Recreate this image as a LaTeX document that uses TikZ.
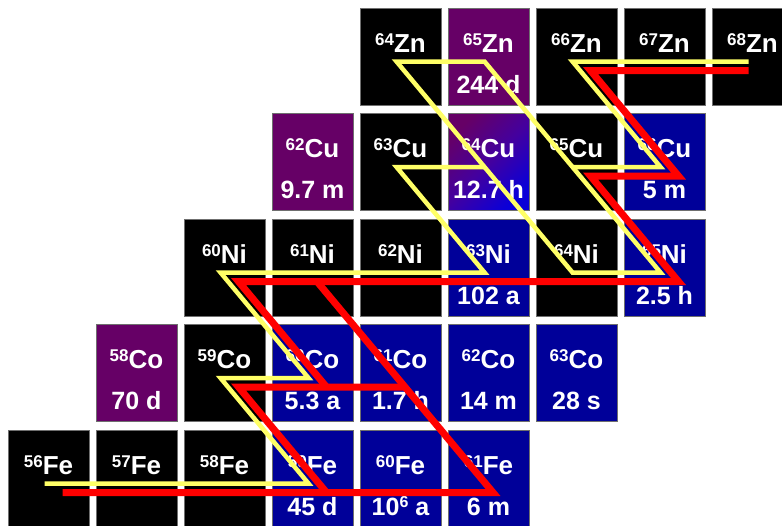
\documentclass[tikz,border=0pt]{standalone}
\usepackage{fontspec}
\setmainfont{Liberation Sans}
\usetikzlibrary{calc}
\definecolor{bplus}{HTML}{660066}
\definecolor{bminus}{HTML}{000099}
\definecolor{bmix}{HTML}{0A00D8}
\definecolor{bmid}{HTML}{44009E}
\definecolor{ypath}{HTML}{FFFF66}
\definecolor{rpath}{HTML}{FF0000}
\definecolor{edgegray}{HTML}{6F6F6F}
\newcommand{\iso}[2]{\raisebox{7pt}{\fontsize{17}{17}\selectfont #1}#2}
\newcommand{\nucbox}[6]{% name, col, row, style, mass, symbol
  \node[nuc,#4] (#1) at ({48.5+88*#2},{56.5+105.5*#3}) {};
  \node[lab] (#1-l) at ($(#1.north)+(0,44)$) {\iso{#5}{#6}};}
\newcommand{\halflife}[2]{\node[hl] (#1-h) at ($(#1.north)+(0,85)$) {#2};}
\begin{document}
\begin{tikzpicture}[x=1pt,y=-1pt,
  nuc/.style={draw=edgegray, line width=0.8pt, minimum width=81pt, minimum height=97pt, inner sep=0pt, outer sep=0pt},
  stable/.style={fill=black},
  ecbox/.style={fill=bplus},
  bmbox/.style={fill=bminus},
  mixbox/.style={top color=bplus, bottom color=bmix, middle color=bmid, shading angle=45},
  lab/.style={text=white, font=\fontsize{26}{26}\selectfont\bfseries, anchor=base, inner sep=0pt},
  hl/.style={text=white, font=\fontsize{25}{25}\selectfont\bfseries, anchor=base, inner sep=0pt},
  yline/.style={draw=ypath, line width=4.5pt, line join=miter},
  rline/.style={draw=rpath, line width=7pt, line join=miter}]
\useasboundingbox (0,0) rectangle (782,525);
\clip (0,0) rectangle (782,525);
% Zn row
\nucbox{zn64}{4}{0}{stable}{64}{Zn}
\nucbox{zn65}{5}{0}{ecbox}{65}{Zn}
\halflife{zn65}{244 d}
\nucbox{zn66}{6}{0}{stable}{66}{Zn}
\nucbox{zn67}{7}{0}{stable}{67}{Zn}
\nucbox{zn68}{8}{0}{stable}{68}{Zn}
% Cu row
\nucbox{cu62}{3}{1}{ecbox}{62}{Cu}
\halflife{cu62}{9.7 m}
\nucbox{cu63}{4}{1}{stable}{63}{Cu}
\nucbox{cu64}{5}{1}{mixbox}{64}{Cu}
\halflife{cu64}{12.7 h}
\nucbox{cu65}{6}{1}{stable}{65}{Cu}
\nucbox{cu66}{7}{1}{bmbox}{66}{Cu}
\halflife{cu66}{5 m}
% Ni row
\nucbox{ni60}{2}{2}{stable}{60}{Ni}
\nucbox{ni61}{3}{2}{stable}{61}{Ni}
\nucbox{ni62}{4}{2}{stable}{62}{Ni}
\nucbox{ni63}{5}{2}{bmbox}{63}{Ni}
\halflife{ni63}{102 a}
\nucbox{ni64}{6}{2}{stable}{64}{Ni}
\nucbox{ni65}{7}{2}{bmbox}{65}{Ni}
\halflife{ni65}{2.5 h}
% Co row
\nucbox{co58}{1}{3}{ecbox}{58}{Co}
\halflife{co58}{70 d}
\nucbox{co59}{2}{3}{stable}{59}{Co}
\nucbox{co60}{3}{3}{bmbox}{60}{Co}
\halflife{co60}{5.3 a}
\nucbox{co61}{4}{3}{bmbox}{61}{Co}
\halflife{co61}{1.7 h}
\nucbox{co62}{5}{3}{bmbox}{62}{Co}
\halflife{co62}{14 m}
\nucbox{co63}{6}{3}{bmbox}{63}{Co}
\halflife{co63}{28 s}
% Fe row
\nucbox{fe56}{0}{4}{stable}{56}{Fe}
\nucbox{fe57}{1}{4}{stable}{57}{Fe}
\nucbox{fe58}{2}{4}{stable}{58}{Fe}
\nucbox{fe59}{3}{4}{bmbox}{59}{Fe}
\halflife{fe59}{45 d}
\nucbox{fe60}{4}{4}{bmbox}{60}{Fe}
\halflife{fe60}{10\raisebox{8pt}{\fontsize{16}{16}\selectfont 6} a}
\nucbox{fe61}{5}{4}{bmbox}{61}{Fe}
\halflife{fe61}{6 m}
% path points
\foreach \n in {fe56,fe59,co59,co60,ni60,ni63,cu63,cu64,zn64,zn65,ni64,ni65,cu65,cu66,zn66,zn68}
  {\coordinate (Y\n) at ($(\n.center)+(-4,5)$);}
\foreach \n in {fe56,fe59,co59,co60,ni60,ni65,cu65,cu66,zn66}
  {\coordinate (R\n) at ($(\n.center)+(14,14)$);}
\foreach \n in {fe61,co61,ni61}
  {\coordinate (Q\n) at ($(\n.center)+(4.5,14)$);}
\coordinate (Rzn68) at ($(zn68.center)+(-4,14)$);
% yellow path
\draw[yline] (Yfe56) -- (Yfe59) -- (Yco59) -- (Yco60) -- (Yni60) -- (Yni63) -- (Ycu63) -- (Ycu64);
\draw[yline] (Yzn64) -- (Yzn65) -- (Yni65) -- (Yni64) -- cycle;
\draw[yline] (Ycu65) -- (Ycu66) -- (Yzn66) -- (Yzn68);
% red path
\draw[rline] (Rfe56) -- (Qfe61) -- (Qni61);
\draw[rline] (Rfe59) -- (Rco59) -- (Qco61);
\draw[rline] (Rco60) -- (Rni60) -- (Rni65) -- (Rcu65) -- (Rcu66) -- (Rzn66) -- (Rzn68);
\end{tikzpicture}
\end{document}
